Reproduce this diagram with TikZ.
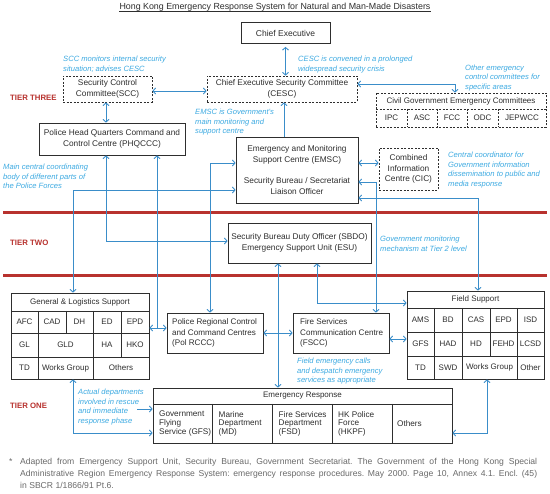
\documentclass[tikz,border=0pt]{standalone}
\usepackage{fontspec}
\setmainfont{Liberation Sans}
\usetikzlibrary{arrows.meta}
\definecolor{connblue}{HTML}{3A8DC9}
\definecolor{annoblue}{HTML}{3DAAE2}
\definecolor{tierred}{HTML}{B8322E}
\definecolor{ink}{HTML}{2E2E2E}
\definecolor{footgray}{HTML}{6A6A6A}
\begin{document}
\begin{tikzpicture}[x=1pt,y=-1pt,
  box/.style={draw=ink, line width=0.8pt, text=ink, font=\fontsize{8.3}{10.5}\selectfont, align=center, inner sep=0pt},
  dashpat/.style={dash pattern=on 2pt off 1.5pt},
  dbox/.style={box, dashpat},
  tabbox/.style={draw=ink, line width=0.8pt, inner sep=0pt},
  grid/.style={draw=ink, line width=0.8pt},
  boxtext/.style={text=ink, font=\fontsize{8.1}{10.5}\selectfont, align=left, anchor=west, inner sep=0pt},
  cell/.style={text=ink, font=\fontsize{8}{9}\selectfont, inner sep=0pt},
  ercell/.style={text=ink, font=\fontsize{8.2}{8.6}\selectfont, inner sep=0pt, anchor=west, align=left},
  anno/.style={text=annoblue, font=\fontsize{7.6}{9.5}\selectfont\itshape, align=left, anchor=north west, inner sep=0pt},
  tierlab/.style={text=tierred, font=\fontsize{7.8}{9}\selectfont\bfseries, anchor=west, inner sep=0pt},
  tierline/.style={draw=tierred, line width=3pt},
  link/.style={draw=connblue, line width=0.9pt},
  >={Straight Barb[length=2.6pt,width=6pt]}
]
\useasboundingbox[fill=white] (0,0) rectangle (550,494);

% title
\node[font=\fontsize{8.85}{10}\selectfont, text=ink, inner sep=0pt] (title) at (275,7.5) {Hong Kong Emergency Response System for Natural and Man-Made Disasters};
\draw[ink, line width=0.5pt] ([yshift=-1.2pt]title.base west) -- ([yshift=-1.2pt]title.base east);

% tier separators and labels
\draw[tierline] (3,213) -- (547,213);
\draw[tierline] (3,276) -- (547,276);
\node[tierlab] (t3) at (10,98) {TIER THREE};
\node[tierlab] (t2) at (10,243) {TIER TWO};
\node[tierlab] (t1) at (10,406) {TIER ONE};

% boxes
\node[box, minimum width=89pt, minimum height=21pt, font=\fontsize{8.5}{10.5}\selectfont] (ce) at (285.5,33) {Chief Executive};
\node[dbox, minimum width=89pt, minimum height=26pt] (scc) at (107.5,89) {Security Control\\Committee(SCC)};
\node[dbox, minimum width=150pt, minimum height=26pt] (cesc) at (282,89) {Chief Executive Security Committee\\(CESC)};
\node[box, minimum width=146pt, minimum height=32pt] (phq) at (112,139) {Police Head Quarters Command and\\Control Centre (PHQCCC)};
\node[box, minimum width=122pt, minimum height=66pt] (emsc) at (297,170) {Emergency and Monitoring\\Support Centre (EMSC)\\[11pt]Security Bureau / Secretariat\\Liaison Officer};
\node[dbox, minimum width=59pt, minimum height=42pt] (cic) at (408.5,169) {Combined\\Information\\Centre (CIC)};
\node[box, minimum width=143pt, minimum height=40pt] (sbdo) at (299.5,243) {Security Bureau Duty Officer (SBDO)\\Emergency Support Unit (ESU)};
\node[box, minimum width=96pt, minimum height=40pt] (polr) at (215,333) {};
\node[boxtext] (polrt) at (172,333) {Police Regional Control\\and Command Centres\\(Pol RCCC)};
\node[box, minimum width=96pt, minimum height=40pt] (fscc) at (341,333) {};
\node[boxtext] (fscct) at (300,333) {Fire Services\\Communication Centre\\(FSCC)};

% Civil Government Emergency Committees
\node[tabbox, dashpat, minimum width=170pt, minimum height=34pt] (civ) at (461,110) {};
\draw[grid, dashpat] (376,109) -- (546,109) (407,109) -- (407,127) (437,109) -- (437,127) (467,109) -- (467,127) (498,109) -- (498,127);
\node[cell] (civh) at (461,101) {Civil Government Emergency Committees};
\node[cell] (ipc) at (391.5,118) {IPC};
\node[cell] (asc) at (422,118) {ASC};
\node[cell] (fcc) at (452,118) {FCC};
\node[cell] (odc) at (482.5,118) {ODC};
\node[cell] (jep) at (522,118) {JEPWCC};

% General & Logistics Support
\node[tabbox, minimum width=138pt, minimum height=86pt] (gl) at (80,336) {};
\draw[grid] (11,311) -- (149,311) (11,333) -- (149,333) (11,357) -- (149,357)
  (38,311) -- (38,379) (93,311) -- (93,379) (121,311) -- (121,357) (66,311) -- (66,333);
\node[cell] (glh) at (80,302) {General \& Logistics Support};
\node[cell] (afc) at (24.5,322) {AFC};
\node[cell] (cad) at (52,322) {CAD};
\node[cell] (dh) at (79.5,322) {DH};
\node[cell] (ed) at (107,322) {ED};
\node[cell] (epd) at (135,322) {EPD};
\node[cell] (gll) at (24.5,345) {GL};
\node[cell] (gld) at (65.5,345) {GLD};
\node[cell] (ha) at (107,345) {HA};
\node[cell] (hko) at (135,345) {HKO};
\node[cell] (gtd) at (24.5,368) {TD};
\node[cell] (gwg) at (65.5,368) {Works Group};
\node[cell] (goth) at (121,368) {Others};

% Field Support
\node[tabbox, minimum width=137pt, minimum height=88pt] (fs) at (475.5,335) {};
\draw[grid] (407,308) -- (544,308) (407,332) -- (544,332) (407,356) -- (544,356)
  (434,308) -- (434,379) (462,308) -- (462,379) (490,308) -- (490,356) (517,308) -- (517,379);
\node[cell] (fsh) at (475.5,299.5) {Field Support};
\node[cell] (ams) at (420.5,320) {AMS};
\node[cell] (bd) at (448,320) {BD};
\node[cell] (cas) at (476,320) {CAS};
\node[cell] (fepd) at (503.5,320) {EPD};
\node[cell] (isd) at (530.5,320) {ISD};
\node[cell] (gfs) at (420.5,344) {GFS};
\node[cell] (had) at (448,344) {HAD};
\node[cell] (hd) at (476,344) {HD};
\node[cell] (fehd) at (503.5,344) {FEHD};
\node[cell] (lcsd) at (530.5,344) {LCSD};
\node[cell] (ftd) at (420.5,367.5) {TD};
\node[cell] (swd) at (448,367.5) {SWD};
\node[cell] (fwg) at (489.5,367.5) {Works Group};
\node[cell] (foth) at (530.5,367.5) {Other};

% Emergency Response
\node[tabbox, minimum width=299pt, minimum height=55pt] (er) at (302.5,415.5) {};
\draw[grid] (153,404) -- (452,404) (212,404) -- (212,443) (272,404) -- (272,443) (332,404) -- (332,443) (392,404) -- (392,443);
\node[cell] (erh) at (302.5,396) {Emergency Response};
\node[ercell] (egfs) at (159,423.5) {Government\\Flying\\Service (GFS)};
\node[ercell] (emd) at (218.5,423.5) {Marine\\Department\\(MD)};
\node[ercell] (efsd) at (278.5,423.5) {Fire Services\\Department\\(FSD)};
\node[ercell] (ehkpf) at (338,423.5) {HK Police\\Force\\(HKPF)};
\node[ercell] (eoth) at (397,423.5) {Others};

% annotations
\node[anno] (n1) at (63,56) {SCC monitors internal security\\situation; advises CESC};
\node[anno] (n2) at (298,56) {CESC is convened in a prolonged\\widespread security crisis};
\node[anno] (n3) at (465,64.5) {Other emergency\\control committees for\\specific areas};
\node[anno] (n4) at (195,109) {EMSC is Government's\\main monitoring and\\support centre};
\node[anno] (n5) at (3,164) {Main central coordinating\\body of different parts of\\the Police Forces};
\node[anno] (n6) at (448,152) {Central coordinator for\\Government information\\dissemination to public and\\media response};
\node[anno] (n7) at (380,236) {Government monitoring\\mechanism at Tier 2 level};
\node[anno] (n8) at (297,358) {Field emergency calls\\and despatch emergency\\services as appropriate};
\node[anno] (n9) at (78,389) {Actual departments\\involved in rescue\\and immediate\\response phase};

% junction coordinates
\coordinate (c1) at (455,84);
\coordinate (h91) at (0,91);
\coordinate (v106) at (106,241);
\coordinate (v284) at (284,0);
\coordinate (h163) at (0,163);
\coordinate (c73) at (73,190);
\coordinate (c210) at (210,163);
\coordinate (c376) at (376,182);
\coordinate (c478) at (478,198);
\coordinate (j157) at (157,328);
\coordinate (v278) at (278,0);
\coordinate (c317) at (317,303);
\coordinate (h339) at (0,339);
\coordinate (c487) at (487,433);
\coordinate (c73b) at (73,433);
\coordinate (a1) at (137,409);

% connectors
\draw[link,<->] ([yshift=-3pt]ce.south) -- (ce.south |- cesc.north);
\draw[link,<->] (scc.east |- h91) -- (cesc.west |- h91);
\draw[link,<->] (cesc.east |- c1) -| (civ.north -| c1);
\draw[link,<->] (scc.south -| v106) -- (phq.north -| v106);
\draw[link,->] (emsc.north -| v284) -- (cesc.south -| v284);
\draw[link,<->] (emsc.east |- h163) -- (cic.west |- h163);
\draw[link,<->] (phq.south -| v106) |- (sbdo.west |- v106);
\draw[link,<->] (gl.east |- j157) -- (polr.west |- j157);
\draw[link,->] (j157) -- (phq.south -| j157);
\draw[link,<->] (emsc.west |- c73) -| (gl.north -| c73);
\draw[link,<->] (emsc.west |- c210) -| (polr.north -| c210);
\draw[link,<->] (emsc.east |- c376) -| (fscc.north -| c376);
\draw[link,<->] (emsc.east |- c478) -| (fs.north -| c478);
\draw[link,<->] (sbdo.south -| v278) -- (er.north -| v278);
\draw[link,<->] (sbdo.south -| c317) |- (fs.west |- c317);
\draw[link,<->] (polr.east) -- (fscc.west);
\draw[link,<->] (fscc.east |- h339) -- (fs.west |- h339);
\draw[link,<->] (fs.south -| c487) |- (er.east |- c487);
\draw[link,<->] (gl.south -| c73b) |- (er.west |- c73b);
\draw[link,->] (a1) -- (er.west |- a1);

% footnote
\node[text=footgray, font=\fontsize{8.6}{12}\selectfont, inner sep=0pt, anchor=north west] (star) at (9,458) {*};
\node[text=footgray, font=\fontsize{8.6}{12}\selectfont, inner sep=0pt, anchor=north west] (fn) at (20,458) {\parbox{517pt}{\frenchspacing\tolerance=10000\hyphenpenalty=10000 Adapted from Emergency Support Unit, Security Bureau, Government Secretariat. The Government of the Hong Kong Special\linebreak Administrative Region Emergency Response System: emergency response procedures. May 2000. Page 10, Annex 4.1. Encl. (45)\linebreak in SBCR 1/1866/91 Pt.6.}};
\end{tikzpicture}
\end{document}
